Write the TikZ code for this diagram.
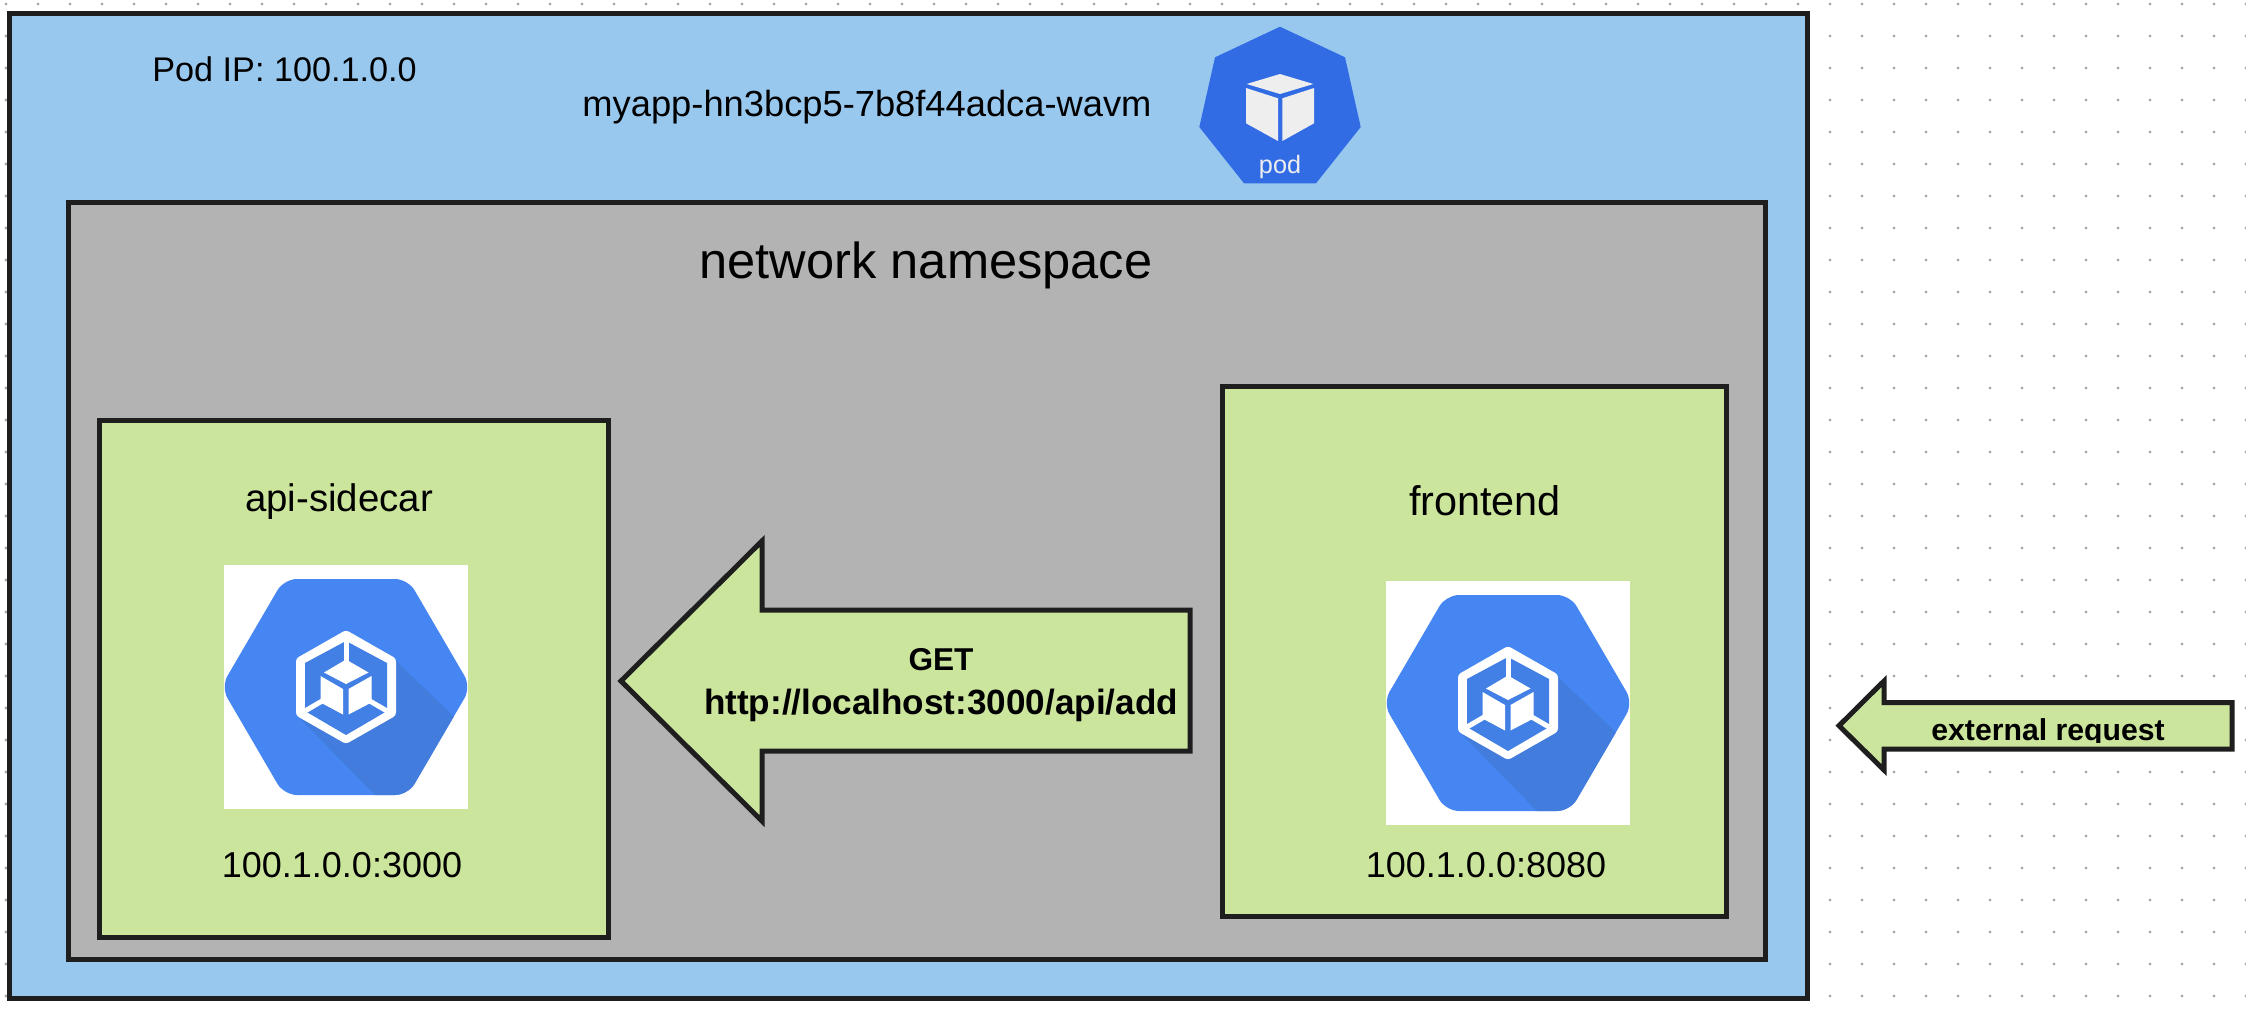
\documentclass[tikz,border=0pt]{standalone}
\usepackage{fontspec}
\setmainfont{Liberation Sans}
\definecolor{podblue}{HTML}{99C8EF}
\definecolor{nsgrey}{HTML}{B3B3B3}
\definecolor{cgreen}{HTML}{CCE59D}
\definecolor{ink}{HTML}{1E1E1E}
\definecolor{gridgrey}{HTML}{ABABAB}
\definecolor{k8sblue}{HTML}{326CE5}
\definecolor{gkeblue}{HTML}{4586F3}
\definecolor{gkeshade}{HTML}{427CDC}
\definecolor{cubewhite}{HTML}{EEEEEE}
\newcommand{\fsz}[1]{\fontsize{#1pt}{#1pt}\selectfont}
\tikzset{
  box/.style={draw=ink,line width=2.5pt,inner sep=0pt,rectangle},
  arrowshape/.style={draw=ink,fill=cgreen,line width=2.5pt,miter limit=10},
  label/.style={inner sep=0pt,anchor=base,text=black},
  gkeicon/.pic={
    \fill[white] (0,0) rectangle (244,243.5);
    \begin{scope}
      \clip[rounded corners=6.5pt] (-3,122) -- (60,14) -- (184,14) -- (247,122) -- (184,230) -- (60,230) -- cycle;
      \fill[gkeblue] (-5,0) rectangle (250,240);
      \fill[gkeshade] (72.7,150) -- (151,230) -- (190,240) -- (250,180) -- (229,150.7) -- (171,95) -- cycle;
    \end{scope}
    \fill[white,rounded corners=1.5pt] (122,65) -- (172,93.5) -- (172,150.5) -- (122,179) -- (72,150.5) -- (72,93.5) -- cycle;
    \fill[gkeshade!60!gkeblue] (122,76) -- (163,98) -- (163,146) -- (122,170) -- (81,146) -- (81,98) -- cycle;
    \draw[white,line width=2.5pt] (122,76) -- (122,100);
    \draw[white,line width=2.5pt] (81,146) -- (105,132);
    \draw[white,line width=2.5pt] (163,146) -- (139,132);
    \fill[white] (122,94.5) -- (144.5,107.5) -- (122,119) -- (100,107.5) -- cycle;
    \fill[white] (96.5,111) -- (119,124) -- (119,149.5) -- (96.5,137.5) -- cycle;
    \fill[white] (124.5,124) -- (147.5,111) -- (147.5,137.5) -- (124.5,149.5) -- cycle;
  }
}
\begin{document}
\begin{tikzpicture}[x=0.5pt,y=-0.5pt]
\useasboundingbox (0,0) rectangle (2246,1013);
\fill[white] (0,0) rectangle (2246,1013);
% dot grid
\fill[gridgrey] \foreach \i in {0,...,70} { \foreach \j in {0,...,31} { ({6+32*\i},{4+32*\j}) circle[radius=1.6] } };

% containers
\node[box,fill=podblue,minimum width=898.75pt,minimum height=492.5pt] (podbox) at (908.25,505.5) {};
\node[box,fill=nsgrey,minimum width=848.75pt,minimum height=378.5pt] (nsbox) at (916.75,581) {};
\node[box,fill=cgreen,minimum width=254.5pt,minimum height=258.75pt] (apibox) at (353.5,678.75) {};
\node[box,fill=cgreen,minimum width=252pt,minimum height=265pt] (frontbox) at (1474,651) {};

% pod icon
\fill[k8sblue] (1280,26.7) -- (1345,57.3) -- (1360.7,127) -- (1316,183.3) -- (1244,183.3) -- (1199.3,127) -- (1215,57.3) -- cycle;
\fill[cubewhite] (1280,74) -- (1313.3,84) -- (1280,94) -- (1246.7,84) -- cycle;
\fill[cubewhite] (1246,88) -- (1278,98.3) -- (1278,141) -- (1246,123.3) -- cycle;
\fill[cubewhite] (1282.3,98.3) -- (1314,88) -- (1314,123.3) -- (1282.3,141) -- cycle;
\node[label,text=cubewhite,font=\fsz{12.6}] (podword) at (1280,173.5) {pod};

% texts
\node[label,anchor=base west,font=\fsz{17.1}] (podip) at (152,81) {Pod IP: 100.1.0.0};
\node[label,font=\fsz{18.15}] (podname) at (867,116) {myapp-hn3bcp5-7b8f44adca-wavm};
\node[label,font=\fsz{25.3}] (nsname) at (926,278) {network namespace};
\node[label,font=\fsz{19.2}] (apiname) at (339,511.5) {api-sidecar};
\node[label,font=\fsz{18}] (apiaddr) at (342,877) {100.1.0.0:3000};
\node[label,font=\fsz{20.7}] (frontname) at (1485,515.7) {frontend};
\node[label,font=\fsz{18}] (frontaddr) at (1486,877.7) {100.1.0.0:8080};

% container icons
\pic at (224,565) {gkeicon};
\pic at (1386,581) {gkeicon};

% GET arrow
\draw[arrowshape] (621,681) -- (762,541) -- (762,610) -- (1190,610) -- (1190,751) -- (762,751) -- (762,821) -- cycle;
\node[label,font=\bfseries\fsz{15.8}] (gettext) at (941,670) {GET};
\node[label,font=\bfseries\fsz{17.55}] (geturl) at (941,714) {http://localhost:3000/api/add};

% external arrow
\draw[arrowshape] (1839,725.7) -- (1884,681) -- (1884,702.7) -- (2232,702.7) -- (2232,749) -- (1884,749) -- (1884,770) -- cycle;
\begin{scope}
  \clip (1900,700) rectangle (2225,742);
  \node[label,font=\bfseries\fsz{15.1}] (extreq) at (2048,740) {external request};
\end{scope}
\end{tikzpicture}
\end{document}
